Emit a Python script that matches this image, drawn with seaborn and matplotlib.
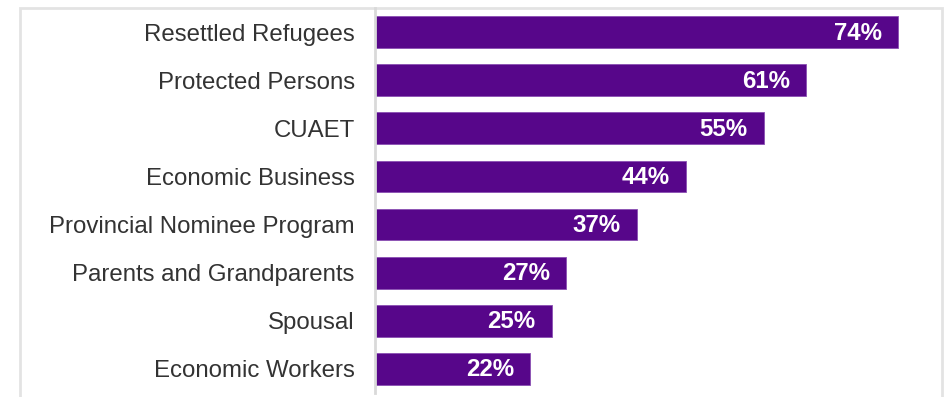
import matplotlib
matplotlib.use("Agg")
import matplotlib.pyplot as plt
import seaborn as sns
import pandas as pd
from matplotlib.patches import Rectangle

categories = [
    "Resettled Refugees",
    "Protected Persons",
    "CUAET",
    "Economic Business",
    "Provincial Nominee Program",
    "Parents and Grandparents",
    "Spousal",
    "Economic Workers",
]
values = [74, 61, 55, 44, 37, 27, 25, 22]
value_labels = ["74%", "61%", "55%", "44%", "37%", "27%", "25%", "22%"]

df = pd.DataFrame({"category": categories, "value": values})

sns.set_theme(style="white")
plt.rcParams["font.family"] = ["Liberation Sans", "DejaVu Sans"]

W, H = 946, 397
fig = plt.figure(figsize=(W / 100, H / 100), dpi=100)
fig.patch.set_facecolor("white")

# light frame around the chart area
fig.add_artist(Rectangle((20 / W, -0.05), (942 - 20) / W, (H - 8) / H + 0.05,
                         transform=fig.transFigure, fill=False,
                         edgecolor="#e3e3e3", linewidth=2, zorder=0))

ax_left, ax_right = 375, 929
ax_top, ax_bottom = 8, 393
ax = fig.add_axes([ax_left / W, (H - ax_bottom) / H,
                   (ax_right - ax_left) / W, (ax_bottom - ax_top) / H])
ax.set_facecolor("none")

bar_color = "#57068a"
sns.barplot(data=df, x="value", y="category", orient="h", color=bar_color,
            width=0.66, saturation=1, edgecolor="#8a4fb3", linewidth=0.6, ax=ax)

px_per_unit = 523 / 74
ax.set_xlim(0, (ax_right - ax_left) / px_per_unit)
ax.set_ylim(7.5, -0.5)

for i, (v, lab) in enumerate(zip(values, value_labels)):
    ax.annotate(lab, xy=(v, i), xytext=(-16, -1), textcoords="offset pixels",
                ha="right", va="center", color="white", fontsize=17.3,
                fontweight="bold")

ax.set_xlabel("")
ax.set_ylabel("")
ax.set_xticks([])
ax.tick_params(axis="y", length=0, pad=14.5, labelsize=17.3, labelcolor="#333333")
for s in ["top", "right", "bottom"]:
    ax.spines[s].set_visible(False)
ax.spines["left"].set_color("#d9d9d9")
ax.spines["left"].set_linewidth(2)

fig.savefig("out.png", dpi=100, facecolor="white")
